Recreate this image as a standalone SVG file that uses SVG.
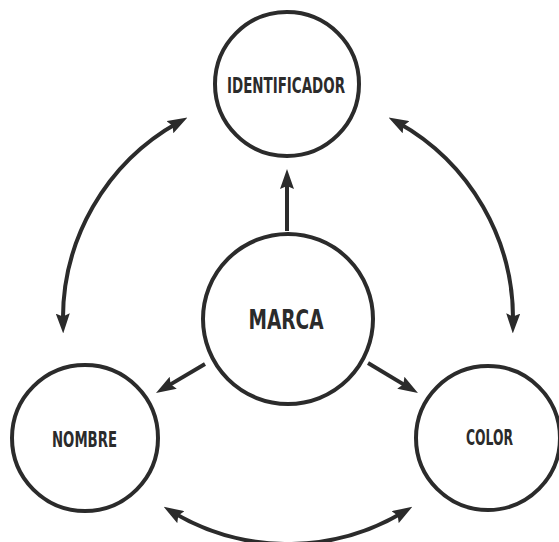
<svg xmlns="http://www.w3.org/2000/svg" width="559" height="542" viewBox="0 0 559 542">
<style>
.node circle{fill:#fff;stroke:#2b2b2b;stroke-width:4}
.node text{font-family:"Liberation Sans Narrow","DejaVu Sans Condensed","Liberation Sans",sans-serif;font-weight:bold;fill:#2b2b2b;text-anchor:middle}
.conn path{fill:none;stroke:#2b2b2b;stroke-width:4}
</style>
<defs>
<marker id="ah" markerUnits="userSpaceOnUse" viewBox="0 0 20 14" markerWidth="20" markerHeight="14" refX="10" refY="7" orient="auto-start-reverse">
<path d="M0,0 L20,7 L0,14 L3,7 Z" fill="#2b2b2b"/>
</marker>
</defs>
<rect width="559" height="542" fill="#fff"/>
<g class="conn" id="connectors">
<path d="M287,231 L287,179" marker-end="url(#ah)"/>
<path d="M205,364 L164.6,387.9" marker-end="url(#ah)"/>
<path d="M368,363 L409.4,387.9" marker-end="url(#ah)"/>
<path d="M178.7,122.3 A225,225 0 0 0 63,323.5" marker-start="url(#ah)" marker-end="url(#ah)"/>
<path d="M397.3,122.3 A225,225 0 0 1 513,323.5" marker-start="url(#ah)" marker-end="url(#ah)"/>
<path d="M172.3,512 A225,225 0 0 0 403.7,512" marker-start="url(#ah)" marker-end="url(#ah)"/>
</g>
<g class="node" id="identificador">
<circle cx="287" cy="84" r="72"/>
<text x="286" y="93" font-size="21" textLength="118" lengthAdjust="spacingAndGlyphs">IDENTIFICADOR</text>
</g>
<g class="node" id="marca">
<circle cx="288" cy="319" r="85"/>
<text x="286" y="329" font-size="27" textLength="75" lengthAdjust="spacingAndGlyphs">MARCA</text>
</g>
<g class="node" id="nombre">
<circle cx="85" cy="438" r="73"/>
<text x="84.5" y="446.5" font-size="21" textLength="65" lengthAdjust="spacingAndGlyphs">NOMBRE</text>
</g>
<g class="node" id="color">
<circle cx="488" cy="438" r="72"/>
<text x="489.5" y="445" font-size="21" textLength="47" lengthAdjust="spacingAndGlyphs">COLOR</text>
</g>
</svg>
